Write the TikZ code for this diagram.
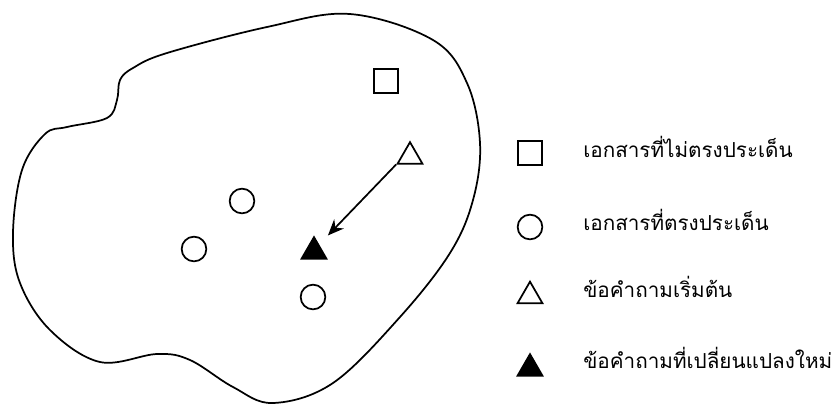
\documentclass[tikz,border=0pt]{standalone}
\usepackage{fontspec}
\newfontfamily\thaifont[Script=Thai]{Loma}
\usetikzlibrary{arrows.meta,shapes.geometric}
\tikzset{
 docnon/.style={rectangle, draw, line width=1.3pt, minimum size=18pt, inner sep=0pt},
 docrel/.style={circle, draw, line width=1.3pt, minimum size=18.5pt, inner sep=0pt},
 qstart/.style={regular polygon, regular polygon sides=3, draw, line width=1.3pt,
 minimum size=21.5pt, inner sep=0pt},
 qnew/.style={qstart, fill=black},
 legtext/.style={anchor=base west, font=\thaifont\fontsize{15.5}{18}\selectfont, inner sep=0pt},
 qarrow/.style={-{Stealth[length=12pt,width=10pt]}, line width=1.3pt},
}

\begin{document}
\begin{tikzpicture}[x=0.75pt, y=-0.75pt]
\useasboundingbox (0,0) rectangle (836,405);

% document space
\draw[line width=1.3pt] plot[smooth cycle, tension=0.6] coordinates {
  (350,14) (433,40) (467,83) (480,143) (473,200) (450,253) (400,317)
  (333,383) (273,403) (233,387) (190,360) (157,354) (100,362) (50,330)
  (20,283) (13,233) (22,170) (45,134) (67,127) (107,118) (117,100)
  (120,80) (133,68) (167,53) (267,27)};

% documents and queries
\node[docnon] (d0) at (386,81) {};
\node[docrel] (d1) at (242,201) {};
\node[docrel] (d2) at (194,249) {};
\node[docrel] (d3) at (313,297) {};
\node[qstart] (q0) at (410,156.5) {};
\node[qnew] (q1) at (314,251.5) {};

\draw[qarrow] (q0.corner 2) -- (q1.corner 1 -| q1.corner 3);

% legend
\node[docnon] (l0) at (530,153) {};
\node[docrel] (l1) at (530,227) {};
\node[qstart] (l2) at (530,296) {};
\node[qnew] (l3) at (530,368.5) {};

\node[legtext] (t0) at (583,157) {เอกสารที่ไม่ตรงประเด็น};
\node[legtext] (t1) at (583,230) {เอกสารที่ตรงประเด็น};
\node[legtext] (t2) at (583,297) {ข้อคำถามเริ่มต้น};
\node[legtext] (t3) at (583,368) {ข้อคำถามที่เปลี่ยนแปลงใหม่};

\end{tikzpicture}
\end{document}
